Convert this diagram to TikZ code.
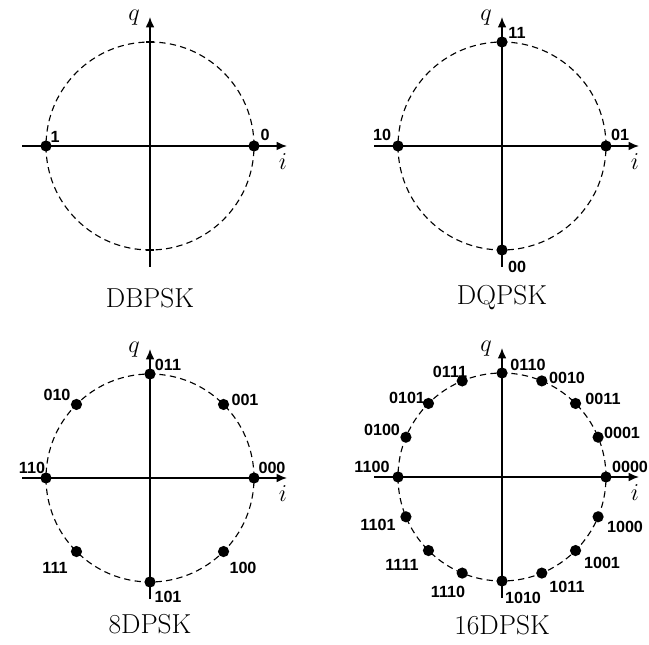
\documentclass[tikz,border=0pt]{standalone}
\usepackage{fontspec}
\newfontfamily\bitsfont{Liberation Sans}
\usetikzlibrary{arrows.meta}

\tikzset{
  axis/.style={line width=1.2pt,-{Latex[length=2.6mm,width=2.2mm]}},
  ring/.style={line width=0.8pt,dash pattern=on 4.5pt off 3pt},
  symbol/.style={circle,fill,inner sep=0pt,minimum size=2.8mm},
  bits/.style={font=\bitsfont\bfseries\fontsize{11.5}{13}\selectfont,inner sep=0pt},
  axlabel/.style={font=\fontsize{17}{20}\selectfont,inner sep=0pt},
  caption/.style={font=\fontsize{19.5}{22}\selectfont,inner sep=0pt}
}

% i/q axes with the unit circle of one panel
\newcommand{\iqplane}[1]{%
  \coordinate (#1o) at (0,0);
  \coordinate (#1w) at (-128,0);
  \coordinate (#1e) at (137,0);
  \coordinate (#1s) at (0,-121);
  \coordinate (#1n) at (0,129);
  \draw[ring] (#1o) circle[radius=104];
  \draw[axis] (#1w) -- (#1e);
  \draw[axis] (#1s) -- (#1n);
  \node[axlabel] (#1i) at (133,-16) {$i$};
  \node[axlabel] (#1q) at (-16,128) {$q$};
}

\begin{document}
\begin{tikzpicture}[x=0.025cm,y=0.025cm]
\useasboundingbox (0,0) rectangle (649,644);

% DBPSK
\begin{scope}[shift={(150,498)}]
\iqplane{b}
\draw[line width=0.8pt] (-4,104) -- (4,104);
\draw[line width=0.8pt] (-4,-104) -- (4,-104);
\foreach \a/\s/\lx/\ly in {0/0/115/11, 180/1/-95/9}{
  \node[symbol] (b\s) at (\a:104) {};
  \node[bits] (bl\s) at (\lx,\ly) {\s};
}
\node[caption] (bcap) at (0,-152) {DBPSK};
\end{scope}

% DQPSK
\begin{scope}[shift={(502,498)}]
\iqplane{q}
\foreach \a/\s/\lx/\ly in {0/01/118/11, 90/11/15/113, 180/10/-120/11, 270/00/15/-121}{
  \node[symbol] (q\s) at (\a:104) {};
  \node[bits] (ql\s) at (\lx,\ly) {\s};
}
\node[caption] (qcap) at (0,-152) {DQPSK};
\end{scope}

% 8DPSK
\begin{scope}[shift={(150,166)}]
\iqplane{e}
\foreach \a/\s/\lx/\ly in {0/000/122/10, 45/001/95/78, 90/011/18/113, 135/010/-93/83,
    180/110/-118/10, 225/111/-95/-90, 270/101/18/-119, 315/100/93/-90}{
  \node[symbol] (e\s) at (\a:104) {};
  \node[bits] (el\s) at (\lx,\ly) {\s};
}
\node[caption] (ecap) at (0,-146) {8DPSK};
\end{scope}

% 16DPSK
\begin{scope}[shift={(502,167)}]
\iqplane{s}
\foreach \a/\s/\lx/\ly in {0/0000/128/10, 22.5/0001/120/44, 45/0011/101/78, 67.5/0010/65/99,
    90/0110/26/112, 112.5/0111/-52/105, 135/0101/-95/79, 157.5/0100/-120/47,
    180/1100/-130/10, 202.5/1101/-124/-48, 225/1111/-100/-88, 247.5/1110/-54/-115,
    270/1010/21/-121, 292.5/1011/65/-110, 315/1001/100/-86, 337.5/1000/123/-50}{
  \node[symbol] (s\s) at (\a:104) {};
  \node[bits] (sl\s) at (\lx,\ly) {\s};
}
\node[caption] (scap) at (0,-148) {16DPSK};
\end{scope}
\end{tikzpicture}
\end{document}
